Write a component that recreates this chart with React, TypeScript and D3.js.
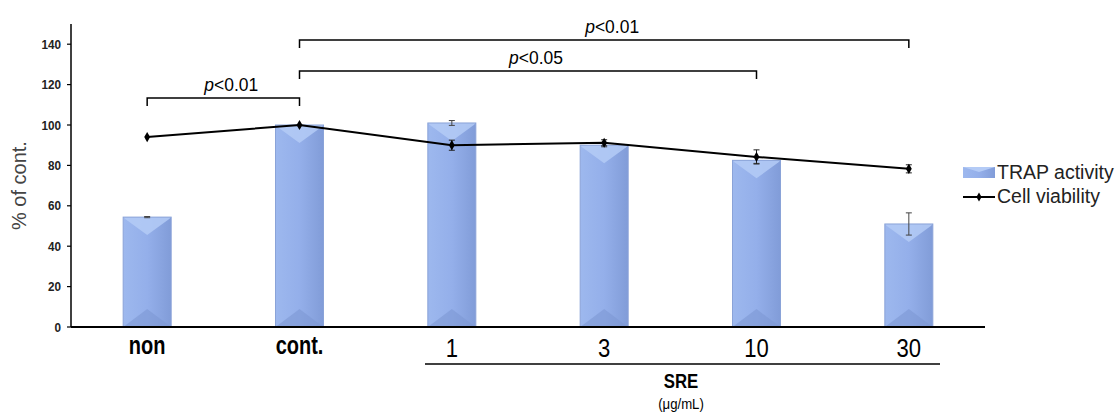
import React from "react";
import * as d3 from "d3";

const categories = ["non", "cont.", "1", "3", "10", "30"];
const trapValues = [54.4, 100, 101, 90, 82.5, 51];
const trapErrors = [0.3, 0, 1.2, 0.8, 1.5, 5.5];
const viabilityValues = [94, 100, 90, 91.2, 84.2, 78.3];
const viabilityErrors = [0, 0, 2.5, 1.5, 3.5, 2];
const yTicks = [0, 20, 40, 60, 80, 100, 120, 140];
const brackets = [
  { from: "non", to: "cont.", level: 0, label: "<0.01" },
  { from: "cont.", to: "10", level: 1, label: "<0.05" },
  { from: "cont.", to: "30", level: 2, label: "<0.01" },
];

const W = 1115, H = 412;
const FONT = "'Liberation Sans', Arial, sans-serif";

function NText(props: { x: number; y: number; sx?: number; anchor?: string; size: number; weight?: string; fill?: string; children: React.ReactNode }) {
  const { x, y, sx = 1, anchor = "middle", size, weight = "normal", fill = "#000", children } = props;
  return (
    <text transform={`translate(${x},${y}) scale(${sx},1)`} textAnchor={anchor} fontSize={size} fontWeight={weight} fill={fill} fontFamily={FONT}>
      {children}
    </text>
  );
}

export default function App() {
  const x = d3.scaleBand<string>().domain(categories).range([71, 985]).paddingInner(0).paddingOuter(0);
  const y = d3.scaleLinear().domain([0, 150]).range([327, 24]);
  const bw = 48;
  const cx = (c: string) => (x(c) as number) + x.bandwidth() / 2;
  const line = d3.line<number>().x((_, i) => cx(categories[i])).y((v) => y(v));
  const bracketY = [98, 71, 40];

  return (
    <svg width={W} height={H} style={{ position: "absolute", left: 0, top: 0, background: "#fff" }}>
      <defs>
        <linearGradient id="barg" x1="0" x2="1" y1="0" y2="0">
          <stop offset="0" stopColor="#9db8ee" />
          <stop offset="0.5" stopColor="#94afea" />
          <stop offset="1" stopColor="#819cd8" />
        </linearGradient>
      </defs>
      {/* y axis */}
      <line x1={71} x2={71} y1={24} y2={327} stroke="#000" strokeWidth={1.5} />
      {yTicks.map((t) => (
        <g key={t}>
          <line x1={67} x2={71} y1={y(t)} y2={y(t)} stroke="#000" strokeWidth={1.2} />
          <NText x={61} y={y(t) + 4.5} sx={0.9} anchor="end" size={13} weight="bold" fill="#222">
            {t}
          </NText>
        </g>
      ))}
      <text transform={`translate(26,${y(70)}) rotate(-90)`} textAnchor="middle" fontSize={20} fill="#444" fontFamily={FONT}>
        % of cont.
      </text>
      {/* bars */}
      {categories.map((c, i) => {
        const x0 = cx(c) - bw / 2, x1 = cx(c) + bw / 2;
        const top = y(trapValues[i]), bot = y(0);
        const bev = 18;
        return (
          <g key={c}>
            <rect x={x0} y={top} width={bw} height={bot - top} fill="url(#barg)" />
            <polygon points={`${x0},${top} ${x1},${top} ${x1 - 2},${top + 2} ${cx(c)},${top + bev} ${x0 + 2},${top + 2}`} fill="#b4cbf6" opacity={0.85} />
            <polygon points={`${x0},${bot} ${x1},${bot} ${cx(c)},${bot - bev}`} fill="#7d98d4" opacity={0.6} />
            <rect x={x0} y={top} width={bw} height={bot - top} fill="none" stroke="#8aa3d8" strokeWidth={1} />
          </g>
        );
      })}
      {/* trap error bars */}
      {categories.map((c, i) =>
        trapErrors[i] > 0 ? (
          <g key={"te" + c} stroke="#444" strokeWidth={1}>
            <line x1={cx(c)} x2={cx(c)} y1={y(trapValues[i] + trapErrors[i])} y2={y(trapValues[i] - trapErrors[i])} />
            <line x1={cx(c) - 3} x2={cx(c) + 3} y1={y(trapValues[i] + trapErrors[i])} y2={y(trapValues[i] + trapErrors[i])} />
            <line x1={cx(c) - 3} x2={cx(c) + 3} y1={y(trapValues[i] - trapErrors[i])} y2={y(trapValues[i] - trapErrors[i])} />
          </g>
        ) : null
      )}
      {/* x axis */}
      <line x1={71} x2={985} y1={327} y2={327} stroke="#000" strokeWidth={2} />
      {/* viability line */}
      <path d={line(viabilityValues) || ""} fill="none" stroke="#000" strokeWidth={2} />
      {categories.map((c, i) => (
        <g key={"v" + c}>
          {viabilityErrors[i] > 0 && (
            <g stroke="#222" strokeWidth={1}>
              <line x1={cx(c)} x2={cx(c)} y1={y(viabilityValues[i] + viabilityErrors[i])} y2={y(viabilityValues[i] - viabilityErrors[i])} />
              <line x1={cx(c) - 3} x2={cx(c) + 3} y1={y(viabilityValues[i] + viabilityErrors[i])} y2={y(viabilityValues[i] + viabilityErrors[i])} />
              <line x1={cx(c) - 3} x2={cx(c) + 3} y1={y(viabilityValues[i] - viabilityErrors[i])} y2={y(viabilityValues[i] - viabilityErrors[i])} />
            </g>
          )}
          <path d={d3.symbol(d3.symbolDiamond, 30)() || ""} transform={`translate(${cx(c)},${y(viabilityValues[i])})`} fill="#000" />
        </g>
      ))}
      {/* x labels */}
      {categories.map((c, i) =>
        i < 2 ? (
          <NText key={"xl" + c} x={cx(c)} y={354} sx={0.8} size={25} weight="bold">
            {c}
          </NText>
        ) : (
          <NText key={"xl" + c} x={cx(c)} y={356.5} sx={0.85} size={26}>
            {c}
          </NText>
        )
      )}
      <line x1={425} x2={940} y1={364} y2={364} stroke="#000" strokeWidth={1.5} />
      <NText x={681} y={388} sx={0.8} size={21} weight="bold">SRE</NText>
      <NText x={681} y={409} sx={0.85} size={15.5}>(μg/mL)</NText>
      {/* brackets */}
      {brackets.map((b, k) => {
        const a = cx(b.from), e = cx(b.to), by = bracketY[b.level];
        return (
          <g key={"b" + k}>
            <path d={`M${a},${by + 8} V${by} H${e} V${by + 8}`} fill="none" stroke="#000" strokeWidth={1.5} />
            <text transform={`translate(${(a + e) / 2 + 8},${by - 7}) scale(0.92,1)`} textAnchor="middle" fontSize={19} fill="#000" fontFamily={FONT}>
              <tspan fontStyle="italic">p</tspan>{b.label}
            </text>
          </g>
        );
      })}
      {/* legend */}
      <rect x={963} y={167} width={32} height={11} fill="url(#barg)" />
      <polygon points="963,167 995,167 979,172" fill="#b4cbf6" />
      <text x={997} y={179} fontSize={19.5} fill="#222" fontFamily={FONT}>TRAP activity</text>
      <line x1={963} x2={995} y1={197} y2={197} stroke="#000" strokeWidth={2} />
      <path d={d3.symbol(d3.symbolDiamond, 24)() || ""} transform="translate(979,197)" fill="#000" />
      <text x={997} y={203} fontSize={19.5} fill="#222" fontFamily={FONT}>Cell viability</text>
    </svg>
  );
}
